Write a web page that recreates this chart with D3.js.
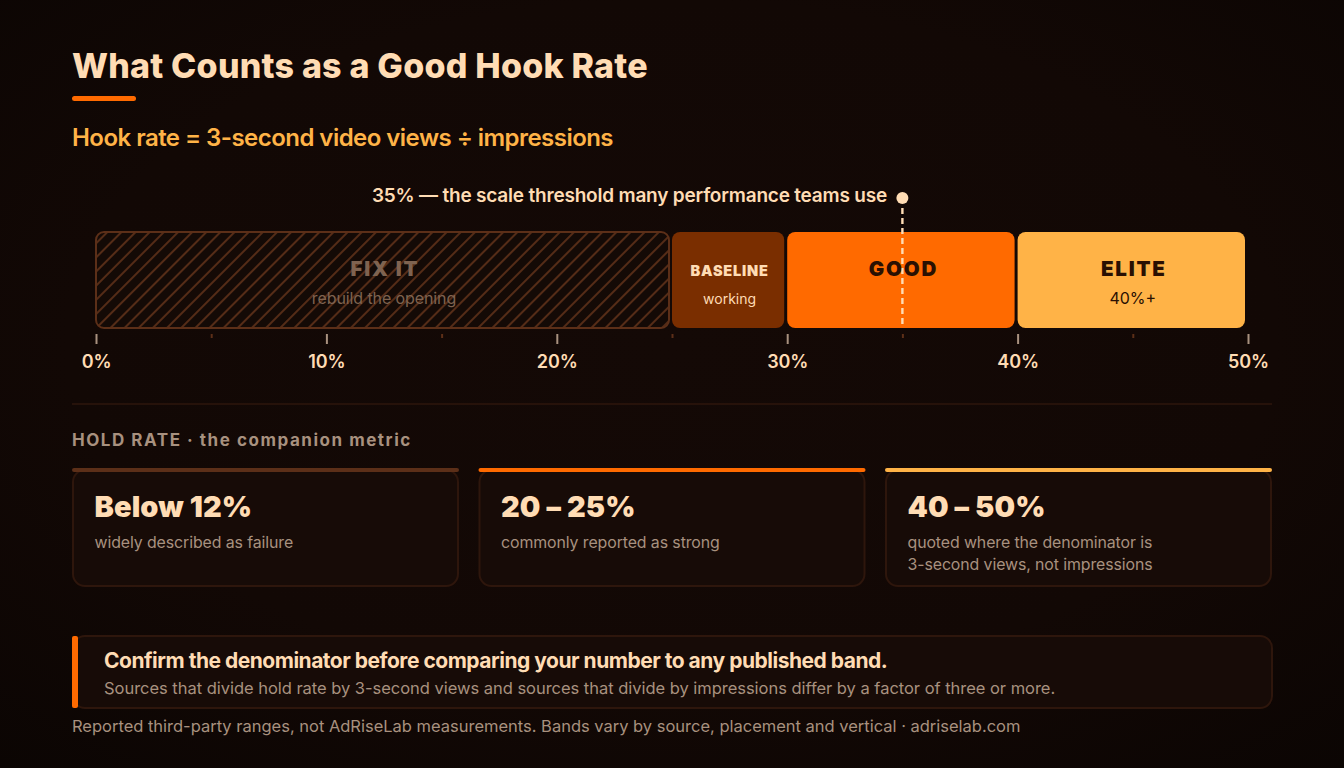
<!DOCTYPE html>
<html><head><meta charset="utf-8">
<script src="https://cdnjs.cloudflare.com/ajax/libs/d3/7.8.5/d3.min.js"></script>
<style>html,body{margin:0;padding:0;background:#0c0604;overflow:hidden}svg{display:block}text{font-family:Inter,sans-serif}</style>
</head><body><svg id="c" width="1344" height="768"></svg>
<script>
const bandNames=["FIX IT","BASELINE","GOOD","ELITE"];
const bandNotes=["rebuild the opening","working","","40%+"];
const bandStart=[0,25,30,40];
const bandEnd=[25,30,40,50];
const majorTicks=[0,10,20,30,40,50];
const minorTicks=[5,15,25,35,45];
const threshold=35;
const holdValues=["Below 12%","20 – 25%","40 – 50%"];
const holdNotes=[["widely described as failure"],["commonly reported as strong"],["quoted where the denominator is","3-second views, not impressions"]];
const holdColors=["#5c2f18","#ff6a00","#ffb347"];

const cream="#ffdcb4",orange="#ff6a00",amber="#ffb347",brown="#7a2e00",dark="#2a1002",muted="#a8917f";
const svg=d3.select("#c");
const defs=svg.append("defs");
const bgGrad=defs.append("radialGradient").attr("id","bg").attr("cx","50%").attr("cy","45%").attr("r","75%");
bgGrad.append("stop").attr("offset","0%").attr("stop-color","#140906");
bgGrad.append("stop").attr("offset","60%").attr("stop-color","#120805");
bgGrad.append("stop").attr("offset","100%").attr("stop-color","#0b0503");
const pat=defs.append("pattern").attr("id","hatch").attr("width",10).attr("height",10).attr("patternUnits","userSpaceOnUse").attr("patternTransform","rotate(45)");
pat.append("rect").attr("width",10).attr("height",10).attr("fill","#140a06");
pat.append("line").attr("x1",0).attr("x2",0).attr("y1",0).attr("y2",10).attr("stroke","#5c2f18").attr("stroke-width",1.8);
pat.append("line").attr("x1",10).attr("x2",10).attr("y1",0).attr("y2",10).attr("stroke","#5c2f18").attr("stroke-width",1.8);
svg.append("rect").attr("width",1344).attr("height",768).attr("fill","url(#bg)");

function T(x,y,s,size,weight,fill,anchor,ls,op){
  return svg.append("text").attr("x",x).attr("y",y).text(s).attr("font-size",size).attr("font-weight",weight)
   .attr("fill",fill).attr("text-anchor",anchor||"start").attr("letter-spacing",ls||0).attr("opacity",op==null?1:op);
}
T(72,78,"What Counts as a Good Hook Rate",34,800,cream,"start",0.22);
svg.append("rect").attr("x",72).attr("y",96).attr("width",64).attr("height",5).attr("rx",2.5).attr("fill",orange);
T(72,146,"Hook rate = 3-second video views ÷ impressions",24,600,amber,"start",-0.54);

const xScale=d3.scaleLinear().domain([0,50]).range([96,1248]);
const barTop=232,barH=96;
bandNames.forEach((n,i)=>{
  const x0=xScale(bandStart[i]),x1=xScale(bandEnd[i])-3;
  if(i==0){
    svg.append("rect").attr("x",x0).attr("y",barTop).attr("width",x1-x0).attr("height",barH).attr("rx",8).attr("fill","url(#hatch)").attr("stroke","#5c2f18").attr("stroke-width",2);
  } else {
    svg.append("rect").attr("x",x0).attr("y",barTop).attr("width",x1-x0).attr("height",barH).attr("rx",8).attr("fill",[null,brown,orange,amber][i]);
  }
});
const nameFill=["#7f6350",cream,dark,dark],noteFill=["#7f6350",cream,dark,dark];
svg.append("line").attr("x1",xScale(threshold)).attr("x2",xScale(threshold)).attr("y1",208).attr("y2",324).attr("stroke",cream).attr("stroke-width",2.4).attr("stroke-dasharray","6 4");
svg.append("circle").attr("cx",xScale(threshold)).attr("cy",198).attr("r",6).attr("fill",cream);
T(887,201.5,"35% — the scale threshold many performance teams use",19,600,cream,"end",-0.2);
bandNames.forEach((n,i)=>{
  const cx=(xScale(bandStart[i])+xScale(bandEnd[i]))/2;
  T(cx+(i==1?0:1),276,n,i==1?14.5:20.5,900,nameFill[i],"middle",i==1?0.8:1.8);
  if(bandNotes[i]) T(cx,304,bandNotes[i],i==1?14:16,400,noteFill[i],"middle",i==0?-0.1:0);
});
const axis=svg.append("g").attr("transform","translate(0,334)");
axis.call(d3.axisBottom(xScale).tickValues(majorTicks).tickSize(10).tickPadding(8).tickFormat(d=>d+"%"));
axis.select(".domain").remove();
axis.selectAll("line").attr("stroke",muted).attr("stroke-width",2);
axis.selectAll("text").attr("fill",cream).attr("font-size",18).attr("font-weight",600).attr("font-family","Inter").attr("dy",0).attr("y",34).attr("letter-spacing",-0.1);
const minor=svg.append("g").attr("transform","translate(0,334)");
minor.call(d3.axisBottom(xScale).tickValues(minorTicks).tickSize(4).tickFormat(""));
minor.select(".domain").remove();
minor.selectAll("line").attr("stroke","#5c2f18").attr("stroke-width",2);

svg.append("line").attr("x1",72).attr("x2",1272).attr("y1",404).attr("y2",404).attr("stroke","#2e160c").attr("stroke-width",1.5);
T(72,446,"HOLD RATE · the companion metric",17,700,muted,"start",1.53);

const cardX=[72,478.5,885],cw=387;
holdValues.forEach((v,i)=>{
  const cx=cardX[i];
  svg.append("rect").attr("x",cx+1).attr("y",470).attr("width",cw-2).attr("height",116).attr("rx",12).attr("fill","#170b07").attr("stroke","#2e160c").attr("stroke-width",2);
  svg.append("rect").attr("x",cx).attr("y",468).attr("width",cw).attr("height",4).attr("rx",2).attr("fill",holdColors[i]);
  T(cx+22.5,517,v,29,900,cream,"start",0.1);
  holdNotes[i].forEach((l,j)=>T(cx+22.5,548+j*22,l,15.9,400,muted,"start",-0.1));
});

svg.append("rect").attr("x",73).attr("y",636).attr("width",1199).attr("height",72).attr("rx",12).attr("fill","#170b07").attr("stroke","#2e160c").attr("stroke-width",2);
svg.append("rect").attr("x",72).attr("y",636).attr("width",6).attr("height",72).attr("rx",2).attr("fill",orange);
T(104,668,"Confirm the denominator before comparing your number to any published band.",21,700,cream,"start",-0.49);
T(104,694,"Sources that divide hold rate by 3-second views and sources that divide by impressions differ by a factor of three or more.",16.5,400,muted,"start",-0.03);
T(72,732,"Reported third-party ranges, not AdRiseLab measurements. Bands vary by source, placement and vertical · adriselab.com",16.5,400,muted,"start",-0.01);
</script></body></html>
